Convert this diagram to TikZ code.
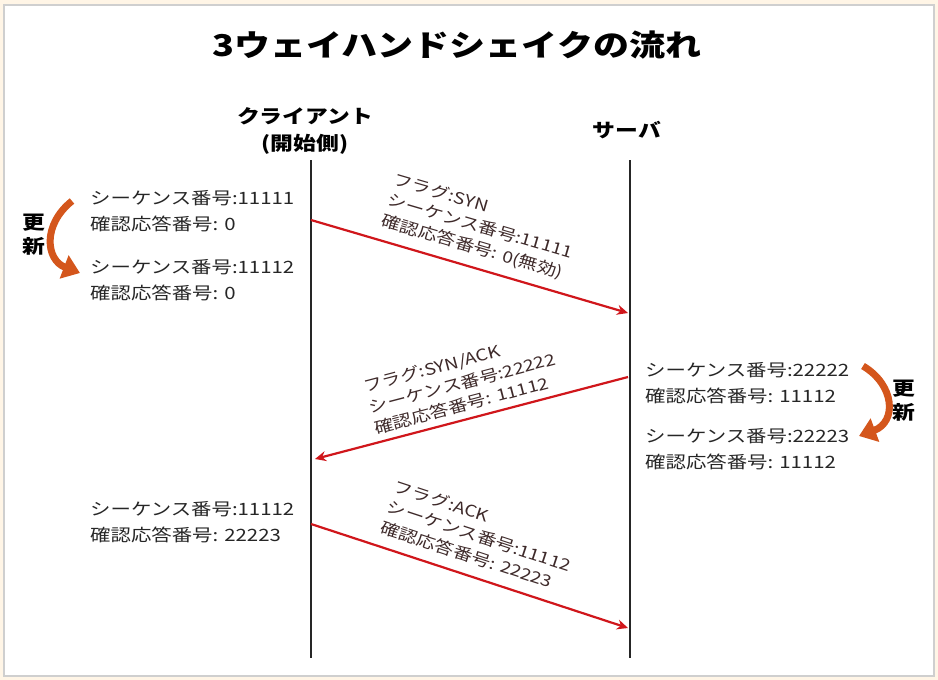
\documentclass[tikz,border=0pt]{standalone}
\usepackage{fontspec}
\setmainfont{Noto Sans CJK JP}[FakeStretch=1.2]
\usetikzlibrary{arrows.meta}

\definecolor{msgred}{HTML}{D0161B}
\definecolor{updorange}{HTML}{D4561C}
\definecolor{lbltext}{HTML}{3E2A2A}
\definecolor{framegray}{HTML}{CFCFCF}
\definecolor{bgcream}{HTML}{FFF5E6}

\tikzset{
  info/.style={anchor=west, align=left, inner sep=0pt, text=black!85, font=\fontsize{17}{25.5}\selectfont},
  msg/.style={draw=msgred, line width=2.2pt, -{Stealth[length=11pt,width=10pt]}},
  msglabel/.style={align=left, inner sep=0pt, text=lbltext, font=\fontsize{16}{21.5}\selectfont},
  upd/.style={draw=updorange, line width=7pt, -{Triangle[length=17pt,width=24pt]}},
  updtext/.style={align=center, inner sep=0pt, font=\bfseries\fontsize{19}{24}\selectfont},
  lifeline/.style={line width=2.5pt, black!85}
}

\begin{document}
\begin{tikzpicture}[x=1pt, y=-1pt]
  \useasboundingbox (0,0) rectangle (938,680);
  \fill[bgcream] (0,0) rectangle (938,680);
  \draw[framegray, line width=2pt, fill=white] (4,5) rectangle (934,676);

  \node (T) at (457,45) {\bfseries\fontsize{30}{36}\selectfont 3ウェイハンドシェイクの流れ};

  % lifelines
  \node[align=center, font=\bfseries\fontsize{19}{27}\selectfont] (C) at (305,131) {クライアント\\(開始側)};
  \node[font=\bfseries\fontsize{19}{27}\selectfont] (S) at (627,130) {サーバ};
  \coordinate (Ct) at (311,160);
  \coordinate (Cb) at (311,658);
  \coordinate (St) at (630,160);
  \coordinate (Sb) at (630,658);
  \draw[lifeline] (Ct) -- (Cb);
  \draw[lifeline] (St) -- (Sb);

  % messages
  \coordinate (A1) at (311,220);
  \coordinate (A2) at (628,313);
  \coordinate (B1) at (628,377);
  \coordinate (B2) at (315,459);
  \coordinate (D1) at (311,524);
  \coordinate (D2) at (628,628);
  \draw[msg] (A1) -- (A2);
  \draw[msg] (B1) -- (B2);
  \draw[msg] (D1) -- (D2);

  \node[msglabel, rotate=-16.3] (LA) at (480,227) {フラグ:SYN\\シーケンス番号:11111\\確認応答番号: 0(無効)};
  \node[msglabel, rotate=14.7] (LB) at (462,383) {フラグ:SYN/ACK\\シーケンス番号:22222\\確認応答番号: 11112};
  \node[msglabel, rotate=-18.2] (LD) at (479,536) {フラグ:ACK\\シーケンス番号:11112\\確認応答番号: 22223};

  % client side
  \node[info] (C1) at (90,211) {シーケンス番号:11111\\確認応答番号: 0};
  \node[info] (C2) at (90,280) {シーケンス番号:11112\\確認応答番号: 0};
  \node[info] (C3) at (90,522) {シーケンス番号:11112\\確認応答番号: 22223};

  % server side
  \node[info] (S1) at (645,383) {シーケンス番号:22222\\確認応答番号: 11112};
  \node[info] (S2) at (645,449) {シーケンス番号:22223\\確認応答番号: 11112};

  % updates
  \coordinate (U1) at (72,201);
  \coordinate (U2) at (80,273);
  \draw[upd] (U1) .. controls (42,225) and (46,260) .. (U2);
  \node[updtext] (UL) at (34,235) {更\\新};
  \coordinate (V1) at (863,366);
  \coordinate (V2) at (859,436);
  \draw[upd] (V1) .. controls (895,385) and (897,422) .. (V2);
  \node[updtext] (VL) at (904,401) {更\\新};
\end{tikzpicture}
\end{document}
